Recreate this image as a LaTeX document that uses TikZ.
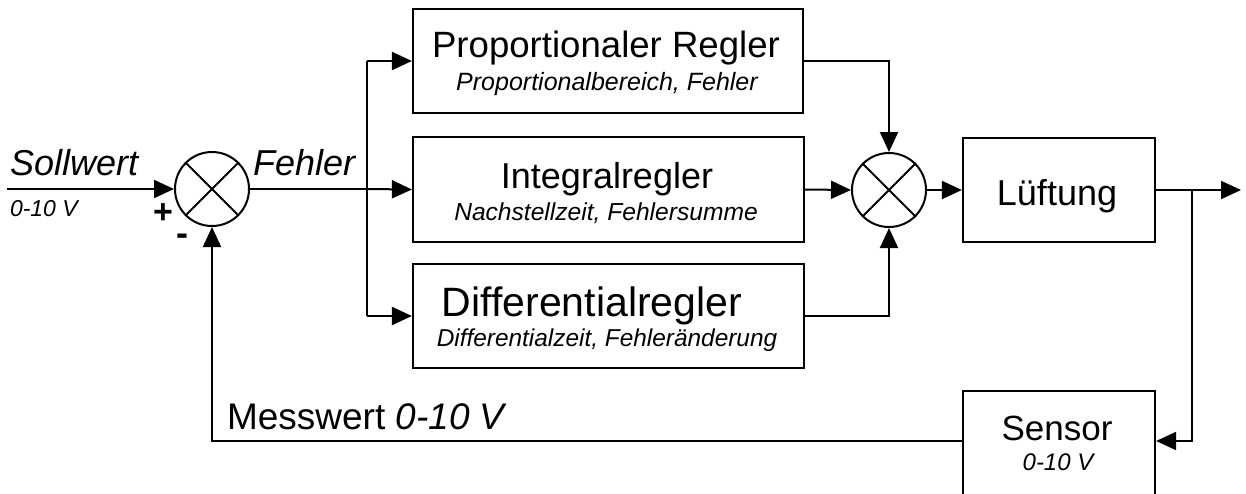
\documentclass[tikz,border=0pt]{standalone}
\usepackage{fontspec}
\setmainfont{Liberation Sans}
\usetikzlibrary{arrows.meta}
\newcommand\myfs[1]{\fontsize{#1}{#1}\selectfont}
\begin{document}
\begin{tikzpicture}[x=1pt,y=-1pt,
  line width=2pt,
  blk/.style={draw, line width=2.2pt, inner sep=0pt},
  sumj/.style={draw, circle, minimum size=74pt, inner sep=0pt, line width=2pt},
  arr/.style={-{Triangle[length=20pt,width=18pt]}},
  txt/.style={anchor=base, inner sep=0pt},
  txtw/.style={anchor=base west, inner sep=0pt}]
\useasboundingbox (0,0) rectangle (1246,493);

% blocks
\node[blk, minimum width=390pt, minimum height=104pt] (prop) at (608,61) {};
\node[blk, minimum width=391pt, minimum height=105pt] (int)  at (608.5,189.5) {};
\node[blk, minimum width=391pt, minimum height=104pt] (diff) at (608.5,316) {};
\node[blk, minimum width=192pt, minimum height=104pt] (luft) at (1059,190) {};
\node[blk, minimum width=192pt, minimum height=120pt] (sens) at (1059,451) {};

% texts in blocks
\node[txt, font=\myfs{36.6}] (propT) at (606,57) {Proportionaler Regler};
\node[txt, font=\myfs{25}\itshape] (propS) at (607,90) {Proportionalbereich, Fehler};
\node[txt, font=\myfs{36}] (intT) at (607,188) {Integralregler};
\node[txt, font=\myfs{24.6}\itshape] (intS) at (606,220) {Nachstellzeit, Fehlersumme};
\node[txt, font=\myfs{41}] (diffT) at (592,316) {Differentialregler};
\node[txt, font=\myfs{24.4}\itshape] (diffS) at (607,346) {Differentialzeit, Fehleränderung};
\node[txt, font=\myfs{36}] (luftT) at (1057,205) {Lüftung};
\node[txt, font=\myfs{35}] (sensT) at (1057,440) {Sensor};
\node[txt, font=\myfs{24}\itshape] (sensS) at (1058,470) {0-10 V};

% summing junctions
\node[sumj] (s1) at (212,189) {};
\draw (s1.north west) -- (s1.south east) (s1.north east) -- (s1.south west);
\node[sumj] (s2) at (889,190) {};
\draw (s2.north west) -- (s2.south east) (s2.north east) -- (s2.south west);

% coordinates
\coordinate (sw) at (7,189);
\coordinate (jf) at (367,189);
\coordinate (jo) at (1192,190);
\coordinate (out) at (1241,190);
\coordinate (fb) at (1192,441);

% labels
\node[txtw, font=\myfs{36}\itshape] (sollT) at (9,175) {Sollwert};
\node[txtw, font=\myfs{23}\itshape] (sollS) at (9,216) {0-10 V};
\node[txtw, font=\myfs{36}\itshape] (fehT) at (252,175) {Fehler};
\node[font=\myfs{34}\bfseries, inner sep=0pt] (plus) at (163,214) {+};
\node[font=\myfs{36}\bfseries, inner sep=0pt] (minus) at (182,240) {-};
\node[txtw, font=\myfs{37}] (mess) at (226,429) {Messwert \textit{0-10 V}};

% connectors
\draw[arr] (sw) -- (s1.west);
\draw (s1.east) -- (jf);
\draw[arr] (jf) -- (int.west);
\draw (jf |- prop.west) -- (jf |- diff.west);
\draw[arr] (jf |- prop.west) -- (prop.west);
\draw[arr] (jf |- diff.west) -- (diff.west);
\draw[arr] (prop.east) -| (s2.north);
\draw[arr] (int.east) -- (s2.west);
\draw[arr] (diff.east) -| (s2.south);
\draw[arr] (s2.east) -- (luft.west);
\draw[arr] (luft.east) -- (out);
\draw[arr] (jo) -- (fb) -- (sens.east |- fb);
\draw[arr] (sens.west |- fb) -| (s1.south);
\end{tikzpicture}
\end{document}
